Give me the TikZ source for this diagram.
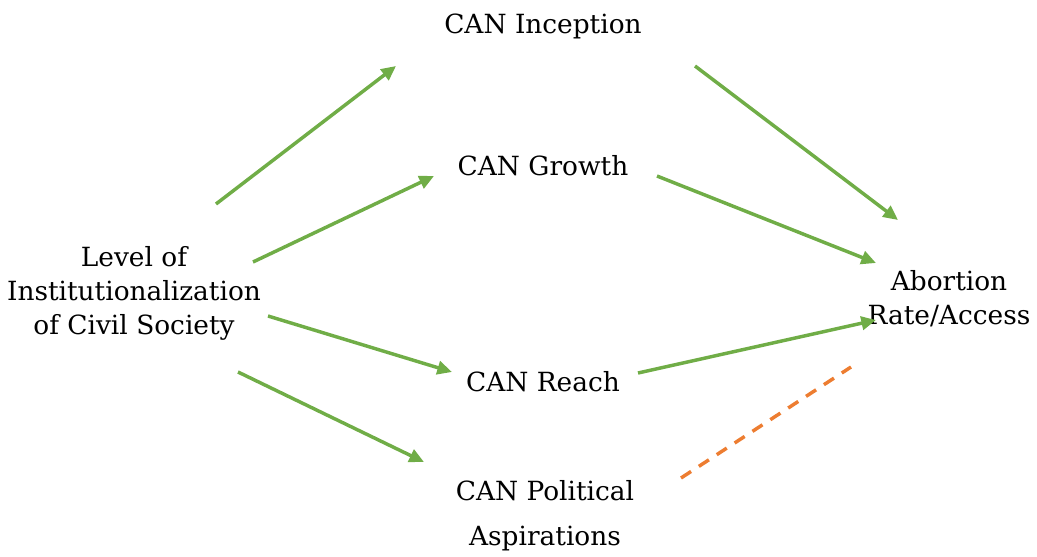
\documentclass[tikz,border=0pt]{standalone}
\usepackage{fontspec}
\setmainfont{DejaVu Serif}
\usetikzlibrary{arrows.meta}
\definecolor{cgreen}{RGB}{112,173,71}
\definecolor{corange}{RGB}{237,125,49}
\begin{document}
\begin{tikzpicture}[x=0.75pt,y=-0.75pt,
  lbl/.style={align=center,font=\fontsize{19.8}{25.5}\selectfont,inner sep=0pt},
  garrow/.style={draw=cgreen,line width=2.6pt,-{Triangle[length=11pt,width=10pt]}},
  odash/.style={draw=corange,line width=2.6pt,dash pattern=on 9pt off 7pt}]
\useasboundingbox (0,0) rectangle (1037,556);
\node[lbl] (inc) at (543,26) {CAN Inception};
\node[lbl] (gro) at (543,166) {CAN Growth};
\node[lbl] (lev) at (134,293) {Level of\\Institutionalization\\of Civil Society};
\node[lbl] (abo) at (949,299) {Abortion\\Rate/Access};
\node[lbl] (rea) at (543,382) {CAN Reach};
\node[lbl,font=\fontsize{19.8}{34}\selectfont] (pol) at (545,516) {CAN Political\\Aspirations};
\coordinate (l1) at (216,204); \coordinate (i1) at (396,66);
\coordinate (l2) at (253,262); \coordinate (g1) at (434,176);
\coordinate (l3) at (268,316); \coordinate (r1) at (452,372);
\coordinate (l4) at (238,372); \coordinate (p1) at (424,462);
\coordinate (i2) at (695,66); \coordinate (a1) at (898,220);
\coordinate (g2) at (657,176); \coordinate (a2) at (876,263);
\coordinate (r2) at (638,373); \coordinate (a3) at (876,320);
\coordinate (p2) at (681,478); \coordinate (a4) at (851,367);
\draw[garrow] (l1) -- (i1);
\draw[garrow] (l2) -- (g1);
\draw[garrow] (l3) -- (r1);
\draw[garrow] (l4) -- (p1);
\draw[garrow] (i2) -- (a1);
\draw[garrow] (g2) -- (a2);
\draw[garrow] (r2) -- (a3);
\draw[odash] (p2) -- (a4);
\end{tikzpicture}
\end{document}
